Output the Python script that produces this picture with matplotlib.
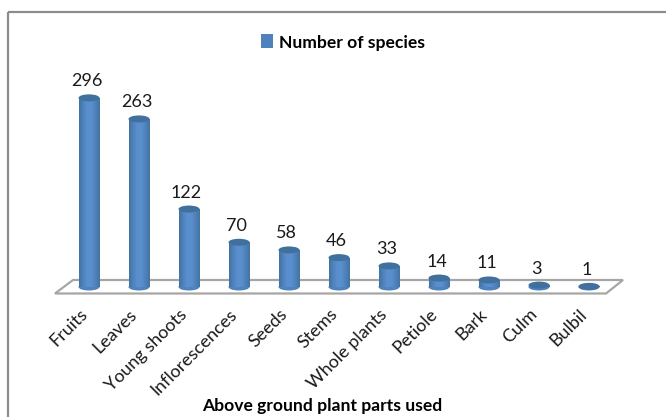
import numpy as np
import matplotlib
matplotlib.use("Agg")
import matplotlib.pyplot as plt
from matplotlib.patches import Ellipse, Patch, Polygon, Rectangle
from matplotlib.colors import LinearSegmentedColormap

parts = ["Fruits", "Leaves", "Young shoots", "Inflorescences", "Seeds", "Stems",
         "Whole plants", "Petiole", "Bark", "Culm", "Bulbil"]
species = [296, 263, 122, 70, 58, 46, 33, 14, 11, 3, 1]

plt.rcParams["font.family"] = ["Lato", "DejaVu Sans"]

W, H = 666, 417
X0, STEP = 89.0, 50.0     # pixel of the first bar, pixels per category
Y0, SCALE = 287.0, 0.639  # pixel of the baseline, pixels per species

fig = plt.figure(figsize=(W / 100, H / 100), dpi=100)
ax = fig.add_axes([0, 0, 1, 1])
ax.axis("off")


# the whole figure is one axes, so these only convert layout pixels to data
def dx(px):
    return (px - X0) / STEP


def dy(py):
    return (Y0 - py) / SCALE


bar_w = 21 / STEP
cap_h = 7 / SCALE
body = LinearSegmentedColormap.from_list("body", ["#44729f", "#4f83bd", "#5b90cf", "#5a8fcd", "#4f82bb", "#44739f"])
grad = np.linspace(0, 1, 64).reshape(1, -1)

# chart frame, only top and left are in the crop
ax.plot([dx(8), dx(8)], [dy(H), dy(12)], color="#8c8c8c", lw=1.6, solid_capstyle="butt")
ax.plot([dx(8), dx(W)], [dy(12), dy(12)], color="#8c8c8c", lw=1.6, solid_capstyle="butt")

# floor of the 3d chart
floor = [(dx(55), dy(293.5)), (dx(73), dy(280)), (dx(623), dy(280)), (dx(606), dy(293.5))]
ax.add_patch(Polygon(floor, closed=True, facecolor="white", edgecolor="#a6a6a6", lw=1.6, zorder=1))

for i, (name, val) in enumerate(zip(parts, species)):
    # cylinder side with a horizontal gradient
    im = ax.imshow(grad, cmap=body, aspect="auto", zorder=2,
                   extent=(i - bar_w / 2, i + bar_w / 2, 0, val))
    side = Rectangle((i - bar_w / 2, 0), bar_w, val, facecolor="none", edgecolor="none")
    ax.add_patch(side)
    im.set_clip_path(side)
    ax.add_patch(Ellipse((i, 0), bar_w, cap_h, facecolor="#4f83bd", edgecolor="none", zorder=1.9))
    ax.add_patch(Ellipse((i, val), bar_w, cap_h, facecolor="#41709f", edgecolor="none", zorder=3))

    ax.text(i - 0.05, val + 16.5 / SCALE, str(val), ha="center", va="center", fontsize=13, color="#1a1a1a")
    ax.text(i - 0.2, dy(306), name, rotation=45, rotation_mode="anchor", ha="right", va="top",
            fontsize=13, color="#1a1a1a")

ax.set_xlim(dx(0), dx(W))
ax.set_ylim(dy(H), dy(0))

ax.text(dx(322), dy(406), "Above ground plant parts used", ha="center", va="center",
        fontsize=12.6, fontweight="bold", color="black")

ax.legend(handles=[Patch(facecolor="#4f81bd", label="Number of species")], loc="center",
          bbox_to_anchor=(343 / W, 1 - 42.5 / H), frameon=False, handlelength=0.7, handleheight=0.85,
          handletextpad=0.35, prop={"size": 12.6, "weight": "bold"})

fig.savefig("out.png", dpi=100)
